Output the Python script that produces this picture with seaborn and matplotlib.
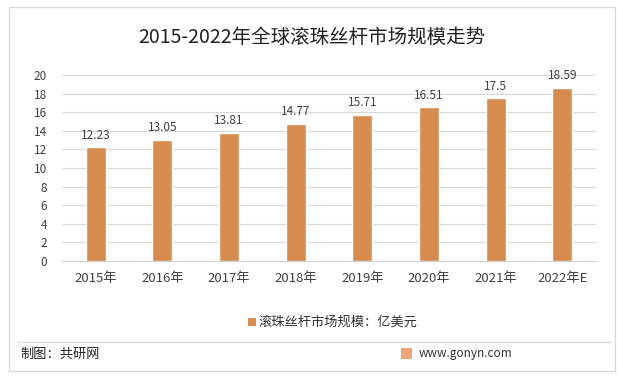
import matplotlib
matplotlib.use("Agg")
import matplotlib.pyplot as plt
from matplotlib.patches import Rectangle
import seaborn as sns
import pandas as pd

years = ["2015年", "2016年", "2017年", "2018年", "2019年", "2020年", "2021年", "2022年E"]
market_size = [12.23, 13.05, 13.81, 14.77, 15.71, 16.51, 17.5, 18.59]
value_labels = ["12.23", "13.05", "13.81", "14.77", "15.71", "16.51", "17.5", "18.59"]
y_ticks = [0, 2, 4, 6, 8, 10, 12, 14, 16, 18, 20]

sns.set_style("white")
plt.rcParams['font.family'] = ['Noto Sans CJK SC', 'DejaVu Sans']

bar_color = "#D68B4F"
df = pd.DataFrame({"year": years, "size": market_size})

fig = plt.figure(figsize=(6.23, 3.79), dpi=100)
ax = fig.add_axes([0.1003, 0.3113, 0.856, 0.491])

sns.barplot(data=df, x="year", y="size", color=bar_color, width=0.3,
            saturation=1, ax=ax, zorder=3)

for i, (v, lab) in enumerate(zip(market_size, value_labels)):
    ax.text(i, v + 0.6, lab, ha="center", va="bottom", fontsize=8.5, color="#404040")

ax.set_ylim(0, 20)
ax.set_yticks(y_ticks)
ax.set_xlim(-0.5, len(years) - 0.5)
ax.yaxis.grid(True, color="#D9D9D9", linewidth=0.8, zorder=0)
ax.set_xlabel("")
ax.set_ylabel("")
for s in ["top", "right", "left"]:
    ax.spines[s].set_visible(False)
ax.spines["bottom"].set_color("#D0D0D0")
ax.tick_params(axis="y", labelsize=8.5, colors="#404040", length=0, pad=11)
ax.tick_params(axis="x", labelsize=9.5, colors="#404040", length=0, pad=8)

# title
fig.text(0.5, 0.90, "2015-2022年全球滚珠丝杆市场规模走势", ha="center", va="center",
         fontsize=14, color="#222222")

# legend
fig.patches.append(Rectangle((0.398, 0.140), 0.0125, 0.02, transform=fig.transFigure,
                             facecolor=bar_color, edgecolor="none"))
fig.text(0.415, 0.150, "滚珠丝杆市场规模：亿美元", ha="left", va="center",
         fontsize=9.5, color="#333333")

# outer frame and divider
fig.patches.append(Rectangle((0.014, 0.022), 0.973, 0.960, transform=fig.transFigure,
                             facecolor="none", edgecolor="#D9D9D9", linewidth=1))
fig.lines.append(plt.Line2D([0.028, 0.98], [0.098, 0.098], transform=fig.transFigure,
                            color="#D9D9D9", linewidth=1))

# footer
fig.text(0.033, 0.065, "制图：共研网", ha="left", va="center", fontsize=9.5, color="#222222")
fig.patches.append(Rectangle((0.643, 0.052), 0.018, 0.03, transform=fig.transFigure,
                             facecolor="#F2A57A", edgecolor="none"))
fig.text(0.672, 0.067, "www.gonyn.com", ha="left", va="center", fontsize=8.5, color="#333333")

fig.savefig("out.png", dpi=100)
